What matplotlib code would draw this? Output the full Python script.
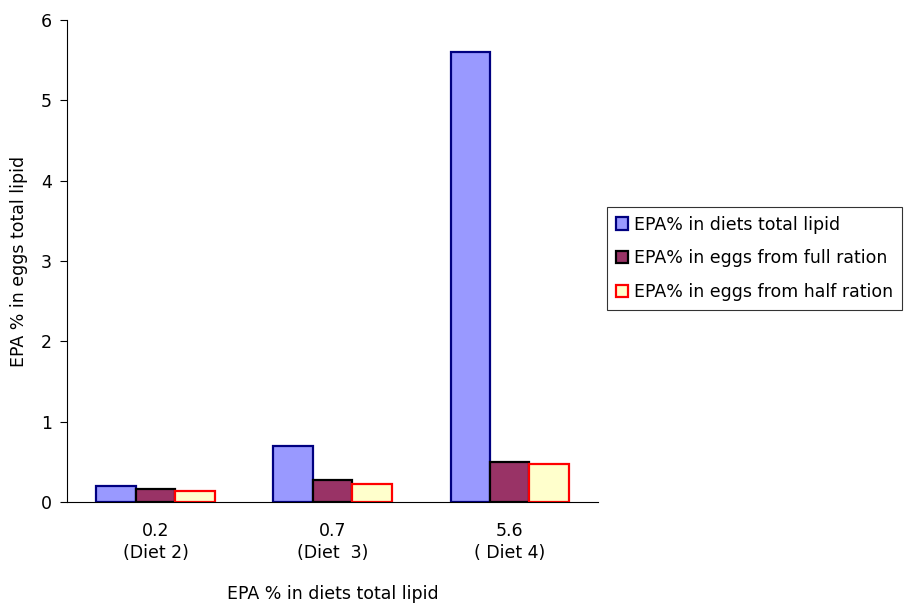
import numpy as np
import matplotlib.pyplot as plt

plt.rcParams['font.family'] = ['DejaVu Sans']

categories = ['0.2\n(Diet 2)', '0.7\n(Diet  3)', '5.6\n( Diet 4)']
diet_epa = [0.2, 0.7, 5.6]
full_ration = [0.16, 0.27, 0.50]
half_ration = [0.14, 0.23, 0.47]

fig = plt.figure(figsize=(9.09, 6.05), dpi=100)
ax = fig.add_axes([0.0737, 0.170, 0.5845, 0.797])

x = np.arange(len(categories))
w = 0.223
ax.bar(x - w, diet_epa, w, color='#9999FF', edgecolor='#000080', linewidth=1.6,
       label='EPA% in diets total lipid')
ax.bar(x, full_ration, w, color='#993366', edgecolor='black', linewidth=1.6,
       label='EPA% in eggs from full ration')
ax.bar(x + w, half_ration, w, color='#FFFFCC', edgecolor='red', linewidth=1.6,
       label='EPA% in eggs from half ration')

ax.set_xlim(-0.5, 2.5)
ax.set_ylim(0, 6)
ax.set_yticks(range(7))
ax.set_xticks(x)
ax.set_xticklabels(categories, fontsize=12.5, linespacing=1.3)
ax.tick_params(axis='x', length=0, pad=14)
ax.tick_params(axis='y', labelsize=12.5, direction='out', length=5, pad=6)
ax.spines['top'].set_visible(False)
ax.spines['right'].set_visible(False)

ax.set_xlabel('EPA % in diets total lipid', fontsize=12.5, labelpad=17)
ax.set_ylabel('EPA % in eggs total lipid', fontsize=12.5, labelpad=9)

leg = fig.legend(loc='upper left', bbox_to_anchor=(0.668, 0.658), fontsize=12.5,
                 frameon=True, fancybox=False, handlelength=0.72, handleheight=0.72,
                 handletextpad=0.35, borderpad=0.5, labelspacing=0.9,
                 borderaxespad=0)
leg.get_frame().set_edgecolor('black')
leg.get_frame().set_linewidth(0.8)

plt.savefig('out.png', dpi=100)
